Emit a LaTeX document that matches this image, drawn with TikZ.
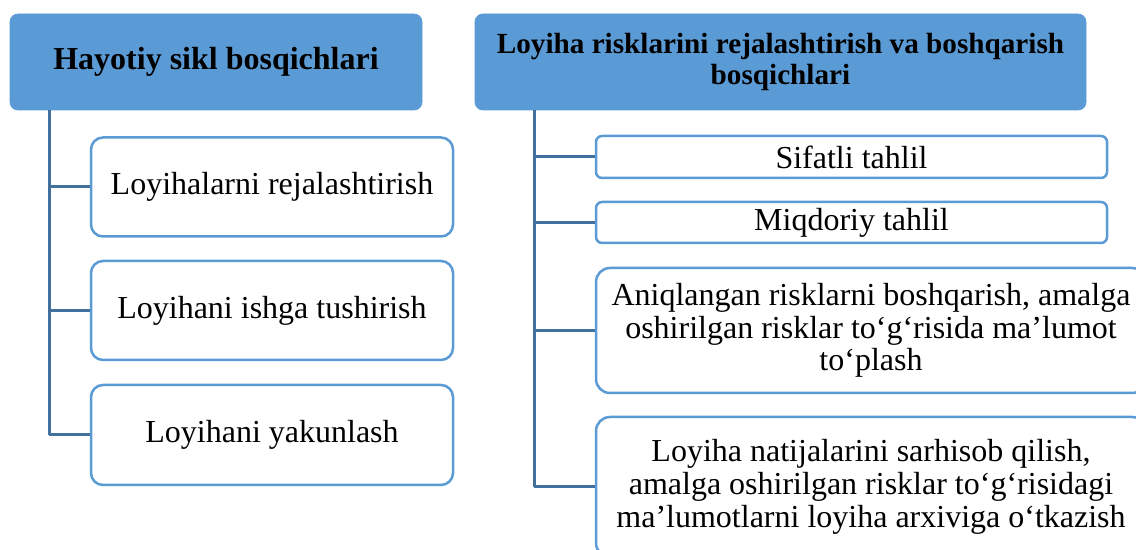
\documentclass[tikz,border=0pt]{standalone}
\usepackage{fontspec}
\setmainfont{Liberation Serif}
\usetikzlibrary{positioning,calc}
\definecolor{hdrblue}{HTML}{5B9BD5}
\definecolor{linkblue}{HTML}{41719C}

\begin{document}
\begin{tikzpicture}[x=0.5pt, y=-0.5pt, line join=round,
  head/.style={fill=hdrblue, draw=hdrblue, rounded corners=4pt, inner sep=0pt,
    align=center, font=\bfseries\fontsize{16}{16}\selectfont},
  stage/.style={draw=hdrblue, line width=1.25pt, fill=white, inner sep=0pt,
    align=center, font=\fontsize{16}{16.4}\selectfont},
  link/.style={draw=linkblue, line width=1.5pt}]
  \useasboundingbox (0,0) rectangle (1136,550);
  \clip (0,0) rectangle (1136,550);

  % headers
  \node[head, minimum width=206pt, minimum height=48pt] (H1) at (216,62)
    {Hayotiy sikl bosqichlari};
  \node[head, minimum width=305.5pt, minimum height=48pt,
    font=\bfseries\fontsize{14.6}{15.8}\selectfont] (H2) at (780.5,62)
    {Loyiha risklarini rejalashtirish va boshqarish\\bosqichlari};

  % life cycle stages
  \node[stage, rounded corners=6pt, minimum width=181pt, minimum height=49.5pt]
    (L1) at (272,187) {Loyihalarni rejalashtirish};
  \node[stage, rounded corners=6pt, minimum width=181pt, minimum height=49.5pt]
    (L2) at (272,310.5) {Loyihani ishga tushirish};
  \node[stage, rounded corners=6pt, minimum width=181pt, minimum height=50pt]
    (L3) at (272,435) {Loyihani yakunlash};

  % risk stages
  \node[stage, rounded corners=3pt, minimum width=255.5pt, minimum height=21pt]
    (R1) at (851.5,157) {Sifatli tahlil};
  \node[stage, rounded corners=3pt, minimum width=255.5pt, minimum height=20.5pt]
    (R2) at (851.5,222.5) {Miqdoriy tahlil};
  \node[stage, rounded corners=7pt, minimum width=275pt, minimum height=62.5pt]
    (R3) at (871,330.5)
    {Aniqlangan risklarni boshqarish, amalga\\oshirilgan risklar to‘g‘risida ma’lumot\\to‘plash};
  \node[stage, rounded corners=7pt, minimum width=275pt, minimum height=70pt]
    (R4) at (871,487)
    {Loyiha natijalarini sarhisob qilish,\\amalga oshirilgan risklar to‘g‘risidagi\\ma’lumotlarni loyiha arxiviga o‘tkazish};

  % trunks
  \coordinate (lt) at ([xshift=20pt]H1.south west);
  \coordinate (rt) at ([xshift=30pt]H2.south west);
  \draw[link] (lt) |- (L3.west);
  \draw[link] (rt) |- (R4.west);

  % branches
  \foreach \n in {L1,L2}
    \draw[link] (\n.west) -- (\n.west -| lt);
  \foreach \n in {R1,R2,R3}
    \draw[link] (\n.west) -- (\n.west -| rt);
\end{tikzpicture}
\end{document}
